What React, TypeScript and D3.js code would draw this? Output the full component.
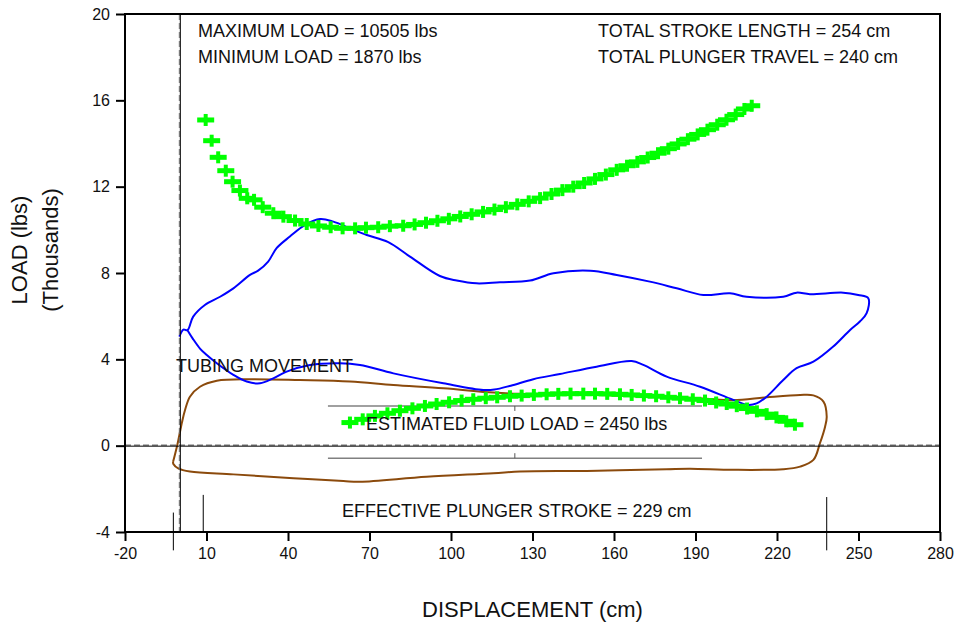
import React, { useEffect, useRef } from "react";
import * as d3 from "d3";

const xTicks = [-20, 10, 40, 70, 100, 130, 160, 190, 220, 250, 280];
const yTicks = [-4, 0, 4, 8, 12, 16, 20];

// surface card (blue): [displacement cm, load thousands lbs]
const surfaceCard = [
  [0, 5.05], [1.5, 5.38], [3.0, 5.35], [5.1, 5.98], [9.4, 6.52], [15, 6.9], [19.9, 7.29],
  [26, 7.91], [29, 8.11], [32.7, 8.53], [35.8, 9.15], [40.7, 9.69], [46.3, 10.23],
  [51.8, 10.5], [56.7, 10.38], [62.8, 10.07], [69, 9.76], [76.9, 9.43], [84.9, 8.76],
  [95.9, 7.86], [102.1, 7.65], [109.4, 7.52], [118, 7.57], [129.1, 7.65], [137.7, 7.99],
  [151.2, 8.11], [161, 7.91], [173.2, 7.6], [183.1, 7.29], [192.9, 6.98], [202.7, 7.06],
  [208.8, 6.9], [222.3, 6.9], [227.2, 7.09], [232.1, 7.02], [244.4, 7.09], [249.9, 6.98],
  [253.6, 6.83], [253, 6.14], [250.5, 5.75], [246.9, 5.36], [240.7, 4.59], [233.4, 3.89],
  [227.2, 3.59], [222.3, 3.04], [216.2, 2.27], [212.5, 1.96], [209.4, 1.89], [203.9, 2.12],
  [191.7, 2.73], [179.4, 3.2], [170.8, 3.74], [166.5, 3.92], [153.6, 3.66], [140.1, 3.32],
  [130.3, 3.08], [122, 2.78], [116, 2.6], [111.9, 2.58], [97.2, 2.89], [78.8, 3.35],
  [66.5, 3.74], [59.1, 3.82], [48.1, 3.74], [39.5, 3.43], [34.6, 3.12], [29.7, 2.89],
  [24.8, 2.97], [19.9, 3.28], [13.8, 3.82], [10.1, 4.2], [7.6, 4.5], [5.0, 4.95], [3.0, 5.35],
];

// downhole pump card (brown)
const pumpCard = [
  [-2.3, -0.75], [-0.75, 0.03], [1.0, 1.1], [2.1, 1.65], [3.9, 2.27], [7.6, 2.73],
  [13.8, 3.01], [26, 3.08], [44.4, 3.04], [62.8, 2.97], [78.8, 2.81], [97.2, 2.66],
  [115.6, 2.46], [125.4, 2.4], [154.8, 2.35], [173.2, 2.27], [191.7, 2.2], [203.9, 2.1],
  [216.2, 2.24], [228.5, 2.35], [233.4, 2.33], [237.1, 2.04], [238.3, 1.34], [237.7, 0.88],
  [235.8, 0.11], [233.4, -0.66], [228.5, -0.97], [222.3, -1.09], [203.9, -1.12],
  [188, -1.07], [179.4, -1.09], [150, -1.17], [125.4, -1.2], [115.6, -1.28], [91, -1.44],
  [66.5, -1.67], [60.4, -1.64], [42, -1.51], [19.9, -1.33], [3.9, -1.2], [-0.4, -1.05],
  [-2.2, -0.85],
];

// green markers, upper curve
const upperMarks = [
  [9.7, 15.09], [11.9, 14.13], [14.3, 13.36], [17.1, 12.74], [19.6, 12.23], [22.3, 11.82],
  [25, 11.46], [27.5, 11.39], [30.7, 11.05], [34.6, 10.77], [38.3, 10.61], [42.6, 10.43],
  [46.9, 10.27], [51.2, 10.18], [55.7, 10.12], [60.1, 10.07], [64.7, 10.07], [68.7, 10.1],
  [73.2, 10.12], [77.5, 10.17], [82.4, 10.19], [86.6, 10.25], [90.8, 10.33], [95, 10.42],
  [99.2, 10.51], [103.4, 10.62], [107.6, 10.72], [111.8, 10.83], [116, 10.94], [120.2, 11.05],
  [124.4, 11.18], [128.6, 11.32], [132.8, 11.47], [137, 11.66], [141, 11.84], [145, 12.0],
  [149, 12.17], [153, 12.36], [157, 12.56], [161, 12.78], [164.8, 12.97], [168.6, 13.15],
  [172.4, 13.35], [176.2, 13.55], [180, 13.76], [183.6, 13.98], [187.2, 14.2], [190.8, 14.42],
  [194.4, 14.64], [198, 14.87], [201.4, 15.1], [204.8, 15.34], [208, 15.6], [210.7, 15.75],
];

// green markers, lower curve
const lowerMarks = [
  [62.8, 1.07], [67.5, 1.22], [72, 1.38], [76.6, 1.5], [81.2, 1.62], [85.8, 1.73],
  [90.4, 1.84], [94.7, 1.93], [99.3, 2.01], [103.9, 2.09], [108.2, 2.15], [112.8, 2.2],
  [117, 2.24], [121.7, 2.29], [126, 2.32], [130.5, 2.35], [135.2, 2.38], [139.5, 2.4],
  [144, 2.41], [148.7, 2.41], [153, 2.41], [157.5, 2.4], [162.2, 2.38], [166.5, 2.35],
  [171, 2.32], [175.5, 2.29], [180, 2.24], [184.3, 2.2], [189, 2.15], [193.5, 2.09],
  [197.6, 2.0], [201.5, 1.93], [205.2, 1.83], [209, 1.72], [212.6, 1.59], [216.2, 1.46],
  [219.8, 1.31], [223.4, 1.13], [226.6, 0.97],
];

// fluid load bracket lines [x1, x2, y]
const fluidLines = [
  [54.7, 192.4, 1.84],
  [54.7, 192.4, -0.58],
];
const fluidMid = 123.5;

// stroke markers [x, yTop, yBottom]
const strokeMarks = [
  [-2.2, -3.1, -4.85],
  [8.8, -2.28, -4],
  [238.3, -2.38, -4.85],
];

const notes = [
  { text: "MAXIMUM LOAD = 10505 lbs", x: 198, y: 37 },
  { text: "MINIMUM LOAD = 1870 lbs", x: 198, y: 63 },
  { text: "TOTAL STROKE LENGTH = 254 cm", x: 598, y: 37 },
  { text: "TOTAL PLUNGER TRAVEL = 240 cm", x: 598, y: 63 },
  { text: "TUBING MOVEMENT", x: 176, y: 372 },
  { text: "ESTIMATED FLUID LOAD = 2450 lbs", x: 366, y: 430 },
  { text: "EFFECTIVE PLUNGER STROKE = 229 cm", x: 342, y: 517 },
];

const W = 954, H = 636;
const margin = { top: 14, right: 14, bottom: 104, left: 125 };
const FONT = "'Liberation Sans', Arial, sans-serif";

export default function App() {
  const svgRef = useRef<SVGSVGElement>(null);

  useEffect(() => {
    const svg = d3.select(svgRef.current);
    svg.selectAll("*").remove();

    const x = d3.scaleLinear().domain([-20, 280]).range([margin.left, W - margin.right]);
    const y = d3.scaleLinear().domain([-4, 20]).range([H - margin.bottom, margin.top]);
    const [x0, x1] = x.range();
    const [yb, yt] = y.range();

    // fluid load bracket
    fluidLines.forEach(([a, b, v], i) => {
      svg.append("line")
        .attr("x1", x(a)).attr("x2", x(b)).attr("y1", y(v)).attr("y2", y(v))
        .attr("stroke", "#808080").attr("stroke-width", 1.5);
      svg.append("line")
        .attr("x1", x(fluidMid)).attr("x2", x(fluidMid))
        .attr("y1", y(v)).attr("y2", y(v) + (i === 0 ? 5 : -5))
        .attr("stroke", "#555").attr("stroke-width", 1);
    });

    const line = d3.line<number[]>()
      .x(d => x(d[0])).y(d => y(d[1]))
      .curve(d3.curveCatmullRom.alpha(0.5));

    svg.append("path")
      .attr("d", line(pumpCard.concat([pumpCard[0]])))
      .attr("fill", "none").attr("stroke", "#8b4a0c").attr("stroke-width", 2);

    svg.append("path")
      .attr("d", line(surfaceCard))
      .attr("fill", "none").attr("stroke", "#0000ff").attr("stroke-width", 2);

    // green cross markers
    const marks = upperMarks.concat(lowerMarks);
    const g = svg.append("g").attr("fill", "#00ff00");
    g.selectAll("rect.h").data(marks).enter().append("rect")
      .attr("class", "h")
      .attr("x", d => x(d[0]) - 8.5).attr("y", d => y(d[1]) - 2.5)
      .attr("width", 17).attr("height", 5);
    g.selectAll("rect.v").data(marks).enter().append("rect")
      .attr("class", "v")
      .attr("x", d => x(d[0]) - 2).attr("y", d => y(d[1]) - 6)
      .attr("width", 4).attr("height", 12);

    // zero lines
    svg.append("line")
      .attr("x1", x0).attr("x2", x1).attr("y1", y(0) + 0.5).attr("y2", y(0) + 0.5)
      .attr("stroke", "#000").attr("stroke-width", 1);
    svg.append("line")
      .attr("x1", x0).attr("x2", x1).attr("y1", y(0) - 0.5).attr("y2", y(0) - 0.5)
      .attr("stroke", "#333").attr("stroke-width", 1).attr("stroke-dasharray", "6,3");
    svg.append("line")
      .attr("x1", x(0) + 1).attr("x2", x(0) + 1).attr("y1", yt).attr("y2", yb)
      .attr("stroke", "#000").attr("stroke-width", 1);
    svg.append("line")
      .attr("x1", x(0)).attr("x2", x(0)).attr("y1", yt).attr("y2", yb)
      .attr("stroke", "#666").attr("stroke-width", 1).attr("stroke-dasharray", "6,3");

    // stroke markers
    strokeMarks.forEach(([v, a, b]) => {
      svg.append("line")
        .attr("x1", x(v)).attr("x2", x(v)).attr("y1", y(a)).attr("y2", y(b))
        .attr("stroke", "#000").attr("stroke-width", 1);
    });

    // frame
    svg.append("rect")
      .attr("x", x0).attr("y", yt).attr("width", x1 - x0).attr("height", yb - yt)
      .attr("fill", "none").attr("stroke", "#000").attr("stroke-width", 2);

    // axes
    const fmt = (d: d3.NumberValue) => String(d);
    const xAxis = svg.append("g")
      .attr("transform", `translate(0, ${yb})`)
      .call(d3.axisBottom(x).tickValues(xTicks).tickFormat(fmt).tickSize(9).tickSizeOuter(0).tickPadding(7));
    const yAxis = svg.append("g")
      .attr("transform", `translate(${x0}, 0)`)
      .call(d3.axisLeft(y).tickValues(yTicks).tickFormat(fmt).tickSize(9).tickSizeOuter(0).tickPadding(6));
    [xAxis, yAxis].forEach(a => {
      a.select(".domain").remove();
      a.selectAll("line").attr("stroke", "#000").attr("stroke-width", 2);
      a.selectAll("text").attr("font-family", FONT).attr("font-size", 16).attr("fill", "#111");
    });

    // notes
    notes.forEach(n => {
      svg.append("text")
        .attr("x", n.x).attr("y", n.y)
        .attr("font-family", FONT).attr("font-size", 18).attr("fill", "#111")
        .text(n.text);
    });

    // axis titles
    svg.append("text")
      .attr("x", (x0 + x1) / 2).attr("y", 617)
      .attr("text-anchor", "middle")
      .attr("font-family", FONT).attr("font-size", 22).attr("fill", "#111")
      .text("DISPLACEMENT (cm)");
    svg.append("text")
      .attr("transform", "translate(27, 250) rotate(-90)")
      .attr("text-anchor", "middle")
      .attr("font-family", FONT).attr("font-size", 22).attr("fill", "#111")
      .text("LOAD (lbs)");
    svg.append("text")
      .attr("transform", "translate(58, 250) rotate(-90)")
      .attr("text-anchor", "middle")
      .attr("font-family", FONT).attr("font-size", 22).attr("fill", "#111")
      .text("(Thousands)");
  }, []);

  return (
    <svg ref={svgRef} width={W} height={H}
      style={{ position: "absolute", left: 0, top: 0, background: "#fff" }} />
  );
}
